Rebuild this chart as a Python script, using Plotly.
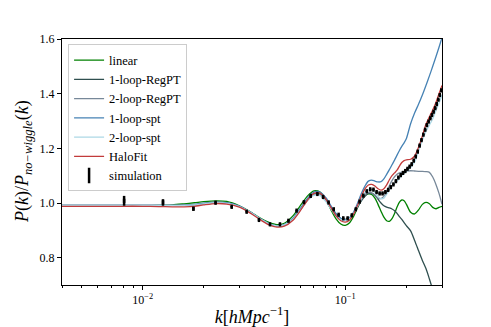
import numpy as np
import plotly.graph_objects as go

# theory curves, sampled on a common k grid [h/Mpc]
k = [0.004, 0.006, 0.008, 0.010, 0.012, 0.014, 0.016, 0.018, 0.020, 0.023,
     0.026, 0.030, 0.034, 0.038, 0.042, 0.046, 0.050, 0.055, 0.060, 0.065,
     0.070, 0.075, 0.080, 0.085, 0.090, 0.095, 0.100, 0.105, 0.110, 0.115,
     0.120, 0.125, 0.130, 0.135, 0.140, 0.145, 0.150, 0.155, 0.160, 0.165,
     0.170, 0.175, 0.180, 0.185, 0.190, 0.195, 0.200, 0.210, 0.220, 0.230,
     0.240, 0.250, 0.260, 0.270, 0.280, 0.290, 0.300]

linear = [0.990, 0.990, 0.990, 0.990, 0.991, 0.993, 0.997, 1.001, 1.005, 1.008,
          1.006, 0.990, 0.968, 0.945, 0.929, 0.921, 0.926, 0.952, 0.990, 1.025,
          1.044, 1.040, 1.012, 0.975, 0.942, 0.923, 0.918, 0.928, 0.952, 0.984,
          1.011, 1.027, 1.033, 1.031, 1.018, 0.995, 0.970, 0.948, 0.935, 0.933,
          0.943, 0.962, 0.985, 1.003, 1.011, 1.008, 0.996, 0.966, 0.960, 0.975,
          0.995, 1.002, 0.997, 0.984, 0.979, 0.984, 0.988]

loop1_regpt = [0.991, 0.991, 0.991, 0.991, 0.991, 0.991, 0.992, 0.994, 0.998, 1.002,
               1.000, 0.988, 0.966, 0.942, 0.924, 0.916, 0.920, 0.941, 0.976, 1.012,
               1.033, 1.033, 1.014, 0.985, 0.959, 0.943, 0.940, 0.946, 0.962, 0.985,
               1.008, 1.025, 1.035, 1.036, 1.028, 1.014, 1.000, 0.990, 0.985, 0.982,
               0.978, 0.972, 0.962, 0.950, 0.940, 0.928, 0.917, 0.898, 0.862, 0.825,
               0.790, 0.760, 0.722, 0.682, 0.640, 0.600, 0.560]

loop2_regpt = [0.991, 0.991, 0.991, 0.991, 0.991, 0.991, 0.992, 0.994, 0.998, 1.002,
               1.000, 0.988, 0.966, 0.942, 0.924, 0.916, 0.920, 0.941, 0.975, 1.010,
               1.030, 1.030, 1.010, 0.981, 0.956, 0.941, 0.938, 0.945, 0.962, 0.988,
               1.012, 1.030, 1.038, 1.037, 1.028, 1.018, 1.016, 1.024, 1.042, 1.063,
               1.082, 1.096, 1.105, 1.110, 1.113, 1.115, 1.117, 1.118, 1.117, 1.116,
               1.116, 1.115, 1.112, 1.095, 1.068, 1.035, 0.995]

loop1_spt = [0.991, 0.991, 0.991, 0.991, 0.991, 0.991, 0.992, 0.995, 0.999, 1.003,
             1.001, 0.989, 0.967, 0.943, 0.925, 0.917, 0.921, 0.943, 0.980, 1.017,
             1.040, 1.040, 1.020, 0.990, 0.962, 0.944, 0.938, 0.946, 0.968, 1.000,
             1.035, 1.062, 1.080, 1.084, 1.080, 1.077, 1.078, 1.088, 1.105, 1.122,
             1.140, 1.157, 1.175, 1.192, 1.207, 1.220, 1.235, 1.290, 1.330, 1.362,
             1.395, 1.430, 1.465, 1.500, 1.535, 1.570, 1.605]

loop2_spt = [0.991, 0.991, 0.991, 0.991, 0.991, 0.991, 0.991, 0.993, 0.997, 1.001,
             0.999, 0.987, 0.966, 0.942, 0.924, 0.916, 0.920, 0.940, 0.974, 1.008,
             1.028, 1.027, 1.006, 0.978, 0.953, 0.939, 0.936, 0.943, 0.962, 0.990,
             1.018, 1.038, 1.048, 1.048, 1.038, 1.024, 1.016, 1.018, 1.032, 1.048,
             1.062, 1.072, 1.080, 1.090, 1.100, 1.108, 1.115, 1.130, 1.150, 1.190,
             1.230, 1.262, 1.285, 1.308, 1.338, 1.366, 1.395]

halofit = [0.988, 0.988, 0.988, 0.988, 0.987, 0.986, 0.986, 0.988, 0.993, 0.998,
           0.996, 0.985, 0.963, 0.939, 0.920, 0.912, 0.915, 0.936, 0.972, 1.010,
           1.035, 1.036, 1.015, 0.983, 0.953, 0.935, 0.930, 0.938, 0.960, 0.992,
           1.025, 1.052, 1.066, 1.068, 1.062, 1.052, 1.047, 1.052, 1.066, 1.085,
           1.100, 1.110, 1.120, 1.135, 1.148, 1.155, 1.158, 1.160, 1.172, 1.205,
           1.245, 1.288, 1.315, 1.340, 1.368, 1.400, 1.430]

# simulation band powers with error bars
k_sim = [0.0081, 0.0126, 0.0178, 0.0229, 0.0275, 0.0326, 0.0375, 0.0425, 0.0476, 0.0524,
         0.0575, 0.0625, 0.0675, 0.0728, 0.0777, 0.0827, 0.0877, 0.0927, 0.0977, 0.1027,
         0.1077, 0.1127, 0.1177, 0.1227, 0.1277, 0.1327, 0.1377, 0.1427, 0.1477, 0.1527,
         0.1577, 0.1627, 0.1677, 0.1727, 0.1777, 0.1827, 0.1877, 0.1927, 0.1977, 0.2027,
         0.2077, 0.2127, 0.2177, 0.2227, 0.2277, 0.2327, 0.2377, 0.2427, 0.2477, 0.2527,
         0.2577, 0.2627, 0.2677, 0.2727, 0.2777, 0.2827, 0.2877, 0.2927, 0.2977]
p_sim = [1.008, 1.002, 0.979, 1.001, 0.986, 0.968, 0.938, 0.922, 0.922, 0.935,
         0.972, 1.003, 1.026, 1.033, 1.022, 1.002, 0.977, 0.957, 0.944, 0.944,
         0.955, 0.977, 1.005, 1.027, 1.043, 1.050, 1.049, 1.040, 1.035, 1.035,
         1.040, 1.048, 1.058, 1.068, 1.080, 1.093, 1.102, 1.110, 1.117, 1.125,
         1.133, 1.142, 1.155, 1.170, 1.188, 1.210, 1.230, 1.250, 1.268, 1.285,
         1.298, 1.310, 1.322, 1.334, 1.347, 1.362, 1.378, 1.395, 1.412]
err_sim = [0.018, 0.012, 0.007, 0.004, 0.003, 0.003, 0.003, 0.003, 0.003, 0.003,
           0.003, 0.003, 0.003, 0.003, 0.003, 0.003, 0.003, 0.003, 0.003, 0.003,
           0.003, 0.003, 0.003, 0.003, 0.003, 0.003, 0.003, 0.003, 0.003, 0.003,
           0.003, 0.003, 0.003, 0.003, 0.003, 0.003, 0.003, 0.003, 0.003, 0.003,
           0.003, 0.003, 0.003, 0.003, 0.003, 0.003, 0.003, 0.003, 0.003, 0.003,
           0.003, 0.003, 0.003, 0.003, 0.003, 0.003, 0.003, 0.003, 0.003]

curves = [
    ("linear", linear, "#008000"),
    ("1-loop-RegPT", loop1_regpt, "#2F4F4F"),
    ("2-loop-RegPT", loop2_regpt, "#778899"),
    ("1-loop-spt", loop1_spt, "#4682B4"),
    ("2-loop-spt", loop2_spt, "#ADD8E6"),
    ("HaloFit", halofit, "#C23B3B"),
]

FONT = "Liberation Serif"

fig = go.Figure()
for name, vals, color in curves:
    fig.add_trace(go.Scatter(
        x=k, y=vals, name=name, mode="lines",
        line={"color": color, "width": 1.3, "shape": "spline", "smoothing": 0.8},
    ))

fig.add_trace(go.Scatter(
    x=k_sim, y=p_sim, name="simulation", mode="markers", showlegend=False,
    marker={"symbol": "line-ns", "size": 3, "color": "black",
            "line": {"color": "black", "width": 2.5}},
    error_y={"type": "data", "array": err_sim, "color": "black",
             "thickness": 2.5, "width": 0},
))
# legend entry only: the errorbar glyph
fig.add_trace(go.Scatter(
    x=[None], y=[None], name="simulation", mode="markers",
    marker={"symbol": "line-ns", "size": 11, "color": "black",
            "line": {"color": "black", "width": 2.5}},
))

axis_common = dict(
    showline=True, linecolor="black", linewidth=1, mirror=True,
    ticks="outside", ticklen=4, tickwidth=1, tickcolor="black",
    showgrid=False, zeroline=False, automargin=False,
    tickfont={"family": FONT, "size": 12, "color": "black"},
)

# page body adds an 8px offset, so the figure is 8px smaller than the window
fig.update_layout(
    width=483, height=319,
    margin=dict(l=54, r=49, t=31, b=42),
    paper_bgcolor="white", plot_bgcolor="white",
    font={"family": FONT, "color": "black"},
    xaxis=dict(
        type="log", range=[np.log10(0.004), np.log10(0.3)],
        tickvals=[0.01, 0.1], ticktext=["10<sup>\u22122</sup>", "10<sup>\u22121</sup>"],
        minor=dict(ticks="outside", ticklen=2, tickcolor="black",
                   tickvals=[0.004, 0.005, 0.006, 0.007, 0.008, 0.009,
                             0.02, 0.03, 0.04, 0.05, 0.06, 0.07, 0.08, 0.09,
                             0.2, 0.3]),
        title=dict(text="<i>k</i>[<i>hMpc</i><sup>\u22121</sup>]",
                   font={"family": FONT, "size": 18}),
        **axis_common,
    ),
    yaxis=dict(
        range=[0.7, 1.6],
        tickvals=[0.8, 1.0, 1.2, 1.4, 1.6],
        ticktext=["0.8", "1.0", "1.2", "1.4", "1.6"],
        **axis_common,
    ),
    legend=dict(
        x=0.016, y=0.978, xanchor="left", yanchor="top",
        bgcolor="rgba(255,255,255,0.8)", bordercolor="#cccccc", borderwidth=1,
        font={"family": FONT, "size": 12.5, "color": "black"},
        itemwidth=30, tracegroupgap=0,
    ),
    showlegend=True,
)

# y label placed like the matplotlib one, just left of the tick labels
fig.add_annotation(
    text="<i>P</i>(<i>k</i>)/<i>P</i><sub><i>no\u2212wiggle</i></sub>(<i>k</i>)",
    xref="paper", yref="paper", x=0, y=0.5, xanchor="center", yanchor="middle",
    xshift=-39, textangle=-90, showarrow=False,
    font={"family": FONT, "size": 18, "color": "black"},
)

fig.write_html("out.html")
